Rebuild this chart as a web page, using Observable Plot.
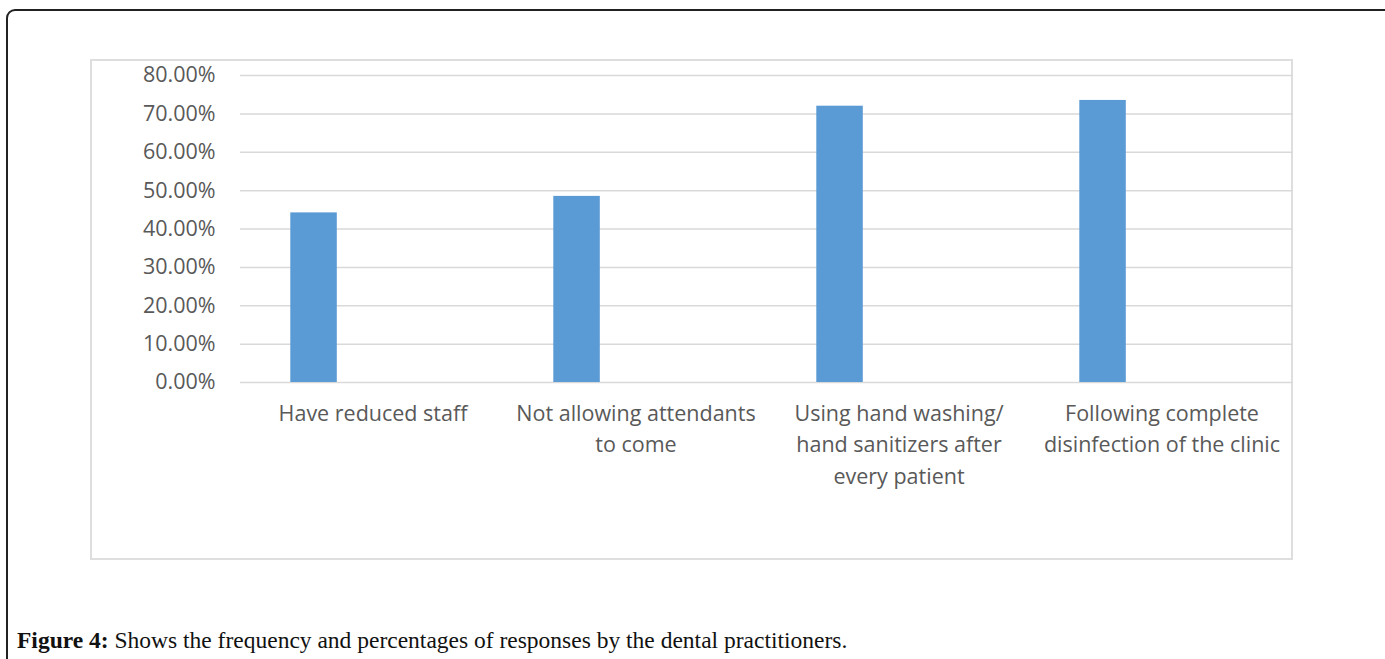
<!DOCTYPE html>
<html>
<head>
<meta charset="utf-8">
<script src="https://cdn.jsdelivr.net/npm/d3@7"></script>
<script src="https://cdn.jsdelivr.net/npm/@observablehq/plot@0.6"></script>
<style>
  html, body { margin: 0; padding: 0; background: #fff; width: 1385px; height: 659px; overflow: hidden; }
  #outer { position: absolute; left: 6px; top: 9px; width: 1400px; height: 700px; border: 2px solid #222; border-radius: 9px; box-sizing: border-box; }
  #box { position: absolute; left: 90px; top: 59px; width: 1203px; height: 501px; border: 2px solid #dedede; box-sizing: border-box; }
  #chart { position: absolute; left: 90px; top: 59px; }
  #caption { position: absolute; left: 17px; top: 625px; font-family: "Liberation Serif", "DejaVu Serif", serif; font-size: 23.5px; line-height: 30px; color: #111; white-space: nowrap; }
  #caption b { font-weight: bold; }
</style>
</head>
<body>
<div id="outer"></div>
<div id="box"></div>
<div id="chart"></div>
<div id="caption"><b>Figure 4:</b> Shows the frequency and percentages of responses by the dental practitioners.</div>
<script>
const categories = ["Have reduced staff", "Not allowing attendants to come", "Using hand washing/hand sanitizers after every patient", "Following complete disinfection of the clinic"];
const values = [44.2, 48.5, 72.0, 73.5];
const tickLabels = ["Have reduced staff", "Not allowing attendants\nto come", "Using hand washing/\nhand sanitizers after\nevery patient", "Following complete\ndisinfection of the clinic"];
const yTicks = [0, 10, 20, 30, 40, 50, 60, 70, 80];

const data = categories.map((c, i) => ({category: c, value: values[i], label: tickLabels[i]}));

const font = "'Open Sans', sans-serif";
const chart = Plot.plot({
  width: 1203,
  height: 501,
  marginLeft: 150,
  marginRight: 0,
  marginTop: 16,
  marginBottom: 178,
  style: {fontFamily: font, background: "transparent", color: "#595959"},
  x: {domain: categories, padding: 0, axis: null},
  y: {domain: [0, 80], ticks: yTicks, axis: null},
  marks: [
    Plot.ruleY(yTicks, {stroke: "#d9d9d9", strokeWidth: 1.5}),
    Plot.barY(data, {x: "category", y: "value", fill: "#5b9bd5", insetLeft: 49.3, insetRight: 167.2}),
    Plot.axisY({ticks: yTicks, tickSize: 0, tickPadding: 25, tickFormat: d => d.toFixed(2) + "%", fontSize: 21.5, fill: "#595959", label: null}),
    Plot.text(data, {x: "category", y: () => 0, text: "label", lineAnchor: "top", dy: 16, lineHeight: 1.46, fontSize: 21.5, fill: "#595959"})
  ]
});
document.getElementById("chart").appendChild(chart);
</script>
</body>
</html>
